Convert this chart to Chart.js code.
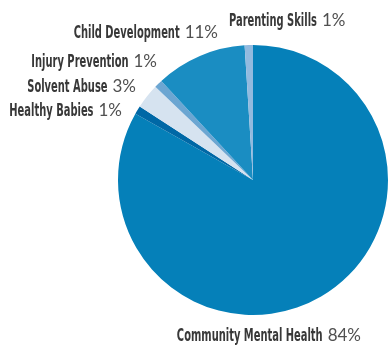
<!DOCTYPE html>
<html>
<head>
<meta charset="utf-8">
<script src="https://cdn.jsdelivr.net/npm/chart.js@4.4.1/dist/chart.umd.min.js"></script>
<style>
    html, body { margin: 0; padding: 0; background: #fff; }
    #wrap { width: 390px; height: 345px; }
</style>
</head>
<body>
<div id="wrap"><canvas id="pieChart" width="390" height="345"></canvas></div>
<script>
// Dati del grafico
const categories = ['Community Mental Health', 'Healthy Babies', 'Solvent Abuse', 'Injury Prevention', 'Child Development', 'Parenting Skills'];
const percentages = [84, 1, 3, 1, 11, 1];
const sliceColors = ['#0580b9', '#0068a6', '#d6e3f0', '#6ca6d2', '#1a8dc2', '#92badf'];

// Posizione delle etichette (x, linea di base, allineamento)
const labelLayout = [
    { x: 361, y: 341, align: 'right' },
    { x: 122, y: 116, align: 'right' },
    { x: 136, y: 92, align: 'right' },
    { x: 157, y: 67, align: 'right' },
    { x: 218, y: 38, align: 'right' },
    { x: 229, y: 26, align: 'left' }
];

const nameFont = 'bold 17px "DejaVu Sans", sans-serif';
const pctFont = '17px Lato, "DejaVu Sans", sans-serif';
const nameRefWidth = 106; // larghezza di "Child Development" nel riferimento

// Plugin per disegnare le etichette esterne
const outerLabels = {
    id: 'outerLabels',
    afterDraw(chart) {
        const ctx = chart.ctx;
        ctx.save();
        ctx.textBaseline = 'alphabetic';
        ctx.textAlign = 'left';
        ctx.font = nameFont;
        const squeeze = nameRefWidth / ctx.measureText('Child Development').width;
        chart.data.labels.forEach((name, i) => {
            const pos = labelLayout[i];
            const pct = chart.data.datasets[0].data[i] + '%';
            ctx.font = nameFont;
            const wName = ctx.measureText(name).width * squeeze;
            ctx.font = pctFont;
            const wPct = ctx.measureText(pct).width;
            const gap = 5;
            const startX = pos.align === 'right' ? pos.x - wName - gap - wPct : pos.x;
            // nome in carattere condensato
            ctx.save();
            ctx.translate(startX, pos.y);
            ctx.scale(squeeze, 1);
            ctx.font = nameFont;
            ctx.fillStyle = '#383838';
            ctx.fillText(name, 0, 0);
            ctx.restore();
            // percentuale
            ctx.font = pctFont;
            ctx.fillStyle = '#505050';
            ctx.fillText(pct, startX + wName + gap, pos.y);
        });
        ctx.restore();
    }
};

new Chart(document.getElementById('pieChart').getContext('2d'), {
    type: 'pie',
    data: {
        labels: categories,
        datasets: [{
            data: percentages,
            backgroundColor: sliceColors,
            borderWidth: 0
        }]
    },
    options: {
        responsive: false,
        animation: false,
        layout: {
            padding: { left: 118, right: 2, top: 45, bottom: 30 }
        },
        plugins: {
            legend: { display: false },
            tooltip: { enabled: false }
        }
    },
    plugins: [outerLabels]
});
</script>
</body>
</html>
